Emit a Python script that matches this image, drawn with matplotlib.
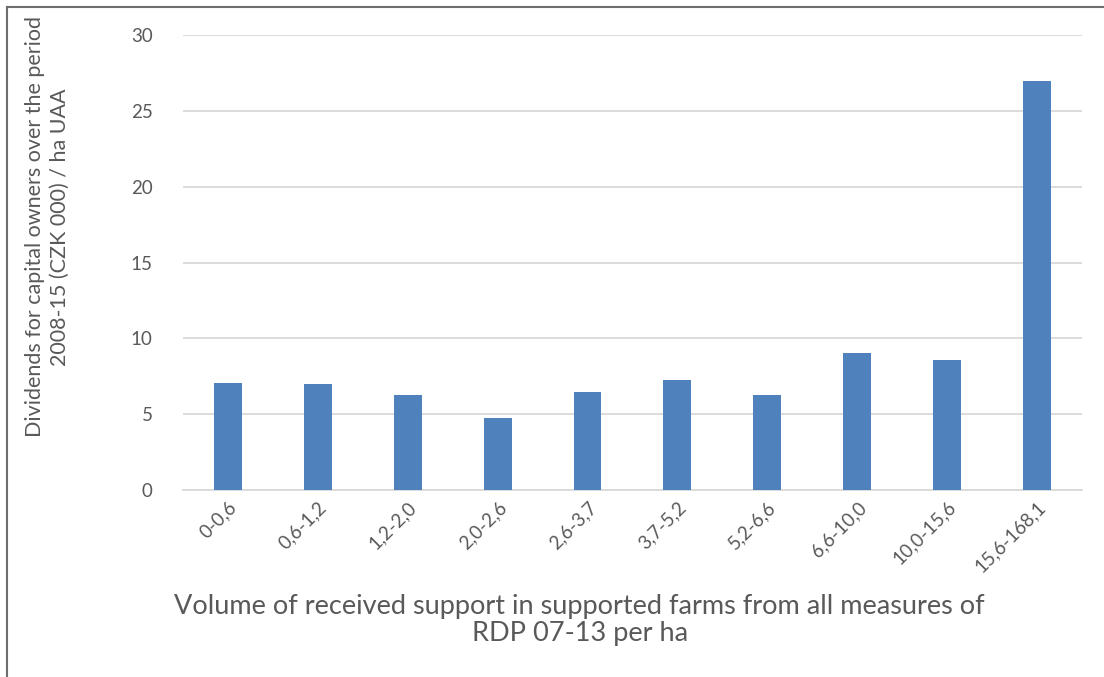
import matplotlib
matplotlib.use('Agg')
import matplotlib.pyplot as plt
from matplotlib.lines import Line2D

# ranges of support per ha (CZK 000)
categories = ['0-0,6', '0,6-1,2', '1,2-2,0', '2,0-2,6', '2,6-3,7',
              '3,7-5,2', '5,2-6,6', '6,6-10,0', '10,0-15,6', '15,6-168,1']
dividends = [7.03, 6.97, 6.24, 4.73, 6.46, 7.25, 6.26, 9.01, 8.55, 26.96]
yticks = [0, 5, 10, 15, 20, 25, 30]

font = ['Lato', 'DejaVu Sans']
grey = '#595959'

fig = plt.figure(figsize=(11.04, 6.77), dpi=100)
ax = fig.add_axes([0.1658, 0.2762, 0.8142, 0.6721])

x = range(len(categories))
ax.bar(x, dividends, width=0.31, color='#4f81bd', zorder=3)

ax.set_xlim(-0.5, len(categories) - 0.5)
ax.set_ylim(0, 30)
ax.set_yticks(yticks)
ax.set_yticklabels([str(v) for v in yticks], family=font, fontsize=13.5, color=grey)
ax.set_xticks(list(x))
ax.set_xticklabels(categories, rotation=45, ha='right', rotation_mode='anchor',
                   family=font, fontsize=13.5, color=grey)
ax.tick_params(axis='both', length=0)
ax.tick_params(axis='y', pad=22)
ax.tick_params(axis='x', pad=6)

ax.grid(axis='y', color='#d9d9d9', linewidth=1.3, zorder=0)
for s in ['top', 'right', 'left']:
    ax.spines[s].set_visible(False)
ax.spines['bottom'].set_color('#d9d9d9')
ax.spines['bottom'].set_linewidth(1.3)

fig.text(0.525, 0.084, 'Volume of received support in supported farms from all measures of\nRDP 07-13 per ha',
         ha='center', va='center', family=font, fontsize=19.5, color=grey, linespacing=1.1)
fig.text(0.043, 0.665, 'Dividends for capital owners over the period\n2008-15 (CZK 000) / ha UAA',
         ha='center', va='center', rotation=90, family=font, fontsize=15.5, color=grey,
         linespacing=1.25)

# chart border (left and top visible)
fig.add_artist(Line2D([0.0065, 0.0065], [0, 0.99], transform=fig.transFigure, color='#6e6e6e', lw=1.5))
fig.add_artist(Line2D([0.0065, 1.0], [0.99, 0.99], transform=fig.transFigure, color='#6e6e6e', lw=1.5))

fig.savefig('out.png', dpi=100)
